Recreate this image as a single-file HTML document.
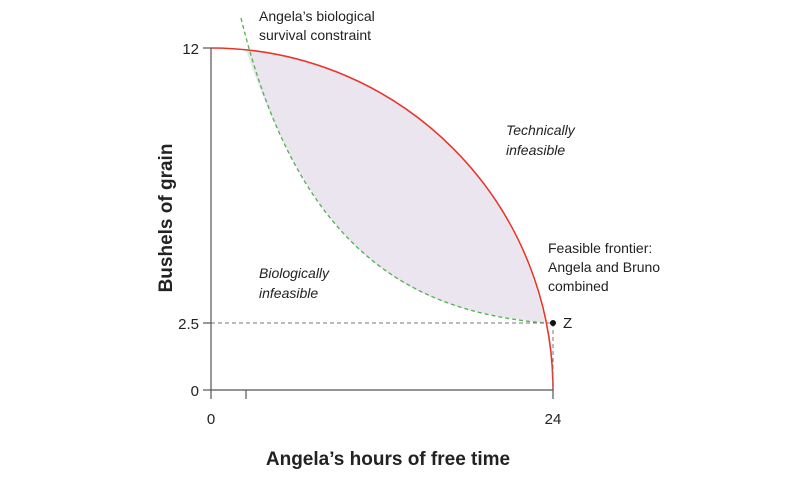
<!DOCTYPE html>
<html><head><style>
body{margin:0;background:#fff}
svg{display:block;font-family:"Liberation Sans",sans-serif}
</style></head><body>
<svg width="810" height="479" viewBox="0 0 810 479">
<path id="fill" d="M246,50 C330,300 450,310 545,323 A342,342 0 0 0 246,50" fill="#ebe5f0"/>
<path d="M211,48 A342,342 0 0 1 553,390" fill="none" stroke="#e8352a" stroke-width="1.6" transform="scale(1,1)"/>
<path d="M241,18 C300,260 420,312 545,323" fill="none" stroke="#4cb34c" stroke-width="1.3" stroke-dasharray="4,3"/>
<line x1="211" y1="323" x2="553" y2="323" stroke="#777" stroke-dasharray="4,3" stroke-width="1"/>
<line x1="553" y1="323" x2="553" y2="390" stroke="#777" stroke-dasharray="4,3" stroke-width="1"/>
<line x1="211" y1="48" x2="211" y2="390" stroke="#555" stroke-width="1.2"/>
<line x1="211" y1="390" x2="553" y2="390" stroke="#555" stroke-width="1.2"/>
<g stroke="#555" stroke-width="1.2">
<line x1="203" y1="48" x2="211" y2="48"/><line x1="203" y1="323" x2="211" y2="323"/><line x1="203" y1="390" x2="211" y2="390"/>
<line x1="211" y1="390" x2="211" y2="399"/><line x1="246" y1="390" x2="246" y2="399"/><line x1="553" y1="390" x2="553" y2="399"/>
</g>
<circle cx="553" cy="323" r="3" fill="#111"/>
<g font-size="15" fill="#222">
<text x="199" y="54" text-anchor="end">12</text>
<text x="199" y="329" text-anchor="end">2.5</text>
<text x="199" y="396" text-anchor="end">0</text>
<text x="211" y="424" text-anchor="middle">0</text>
<text x="553" y="424" text-anchor="middle">24</text>
<text x="563" y="328">Z</text>
</g>
<g font-size="14" fill="#222">
<text x="259" y="21">Angela’s biological</text>
<text x="259" y="40">survival constraint</text>
<text x="506" y="135" font-style="italic">Technically</text>
<text x="506" y="155" font-style="italic">infeasible</text>
<text x="259" y="278" font-style="italic">Biologically</text>
<text x="259" y="298" font-style="italic">infeasible</text>
<text x="548" y="253">Feasible frontier:</text>
<text x="548" y="272">Angela and Bruno</text>
<text x="548" y="291">combined</text>
</g>
<text x="388" y="465" text-anchor="middle" font-size="19" font-weight="bold" fill="#222">Angela’s hours of free time</text>
<text transform="translate(172,218) rotate(-90)" text-anchor="middle" font-size="19" font-weight="bold" fill="#222">Bushels of grain</text>
</svg>
</body></html>
